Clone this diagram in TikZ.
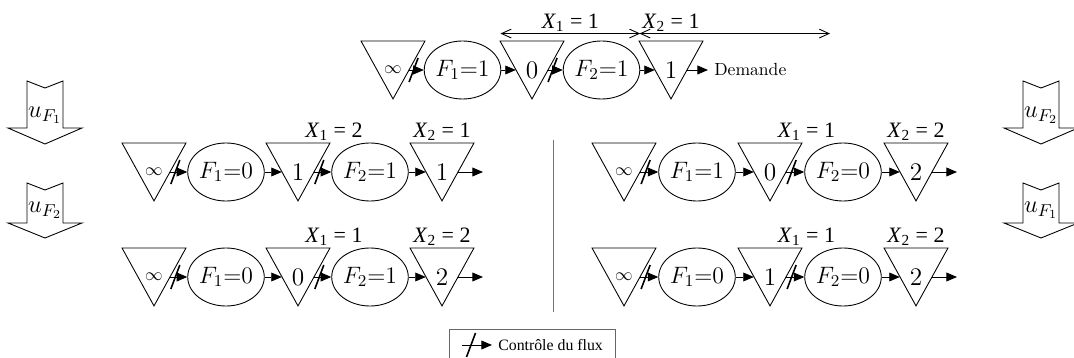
\documentclass[tikz,border=0pt]{standalone}
\usepackage{fix-cm}
\usepackage{fontspec}
\newfontfamily\tnr{Liberation Serif}
\usetikzlibrary{arrows.meta,positioning,calc,shapes.geometric,decorations.markings}

\begin{document}
\begin{tikzpicture}[
    line width=0.5pt,
    >={Triangle[length=6pt,width=5pt]},
    flow/.style={->},
    ctrl/.style={
        ->,
        postaction={decorate},
        decoration={markings,
            mark=at position 0.3 with {\draw[-, line width=0.9pt] (-0.09,-0.24) -- (0.09,0.24);}}
    },
    span/.style={{Straight Barb[length=5.5pt,width=5pt]}-{Straight Barb[length=5.5pt,width=5pt]}},
    stockbox/.style={
        minimum width=0.63cm,
        minimum height=1.14cm,
        inner sep=0pt,
        font=\Large,
        append after command={
            \pgfextra{\draw ([xshift=-0.315cm]\tikzlastnode.north west)
                -- ([xshift=0.315cm]\tikzlastnode.north east)
                -- (\tikzlastnode.south) -- cycle;}
        }
    },
    procbox/.style={
        ellipse,
        draw,
        minimum width=1.30cm,
        minimum height=1.16cm,
        inner sep=0pt,
        font=\fontsize{13.5}{15}\selectfont
    },
    xlab/.style={
        font=\tnr\fontsize{12.5}{14}\selectfont,
        inner sep=1pt
    },
    bigarrow/.style={
        draw,
        fill=white
    },
    ulab/.style={
        font=\fontsize{14}{16}\selectfont
    }
]

\useasboundingbox (0,0) rectangle (21.48,7.16);

% Top row, starting state
\node[stockbox] (srcT) at (7.86,5.76) {\normalsize$\infty$};
\node[procbox] (f1T) at (9.25,5.76) {$F_1{=}1$};
\node[stockbox] (s1T) at (10.64,5.76) {$0$};
\node[procbox] (f2T) at (12.03,5.76) {$F_2{=}1$};
\node[stockbox] (s2T) at (13.42,5.76) {$1$};
\node[anchor=west] (demande) at (14.16,5.76) {Demande};

\draw[ctrl] (srcT.east) -- (f1T.west);
\draw[flow] (f1T.east) -- (s1T.west);
\draw[ctrl] (s1T.east) -- (f2T.west);
\draw[flow] (f2T.east) -- (s2T.west);
\draw[flow] (s2T.east) -- (demande.west);

% Spans of X_1 and X_2
\coordinate (xoneL) at ($(s1T.north)+(-0.63,0.15)$);
\coordinate (xoneR) at (f2T.east |- xoneL);
\coordinate (xtwoL) at ($(s2T.north)+(-0.63,0.15)$);
\coordinate (xtwoR) at (16.60,0 |- xtwoL);
\draw[span] (xoneL) -- (xoneR);
\draw[span] (xtwoL) -- (xtwoR);
\node[xlab, above] at ($(xoneL)!0.5!(xoneR)$) {\textit{X}\textsubscript{1} = 1};
\node[xlab, above] at (s2T |- xtwoL) {\textit{X}\textsubscript{2} = 1};

% Left, after u_F1
\node[stockbox] (srcA) at (3.08,3.72) {\normalsize$\infty$};
\node[procbox] (f1A) at (4.52,3.72) {$F_1{=}0$};
\node[stockbox] (s1A) at (5.96,3.72) {$1$};
\node[procbox] (f2A) at (7.40,3.72) {$F_2{=}1$};
\node[stockbox] (s2A) at (8.84,3.72) {$1$};
\coordinate (endA) at (9.66,3.72);

\draw[ctrl] (srcA.east) -- (f1A.west);
\draw[flow] (f1A.east) -- (s1A.west);
\draw[ctrl] (s1A.east) -- (f2A.west);
\draw[flow] (f2A.east) -- (s2A.west);
\draw[flow] (s2A.east) -- (endA);

\node[xlab, above] at ($(s1A.north)!0.5!(f2A.north)$) {\textit{X}\textsubscript{1} = 2};
\node[xlab, above] at (s2A.north) {\textit{X}\textsubscript{2} = 1};

% Left, after u_F2
\node[stockbox] (srcB) at (3.08,1.62) {\normalsize$\infty$};
\node[procbox] (f1B) at (4.52,1.62) {$F_1{=}0$};
\node[stockbox] (s1B) at (5.96,1.62) {$0$};
\node[procbox] (f2B) at (7.40,1.62) {$F_2{=}1$};
\node[stockbox] (s2B) at (8.84,1.62) {$2$};
\coordinate (endB) at (9.66,1.62);

\draw[ctrl] (srcB.east) -- (f1B.west);
\draw[flow] (f1B.east) -- (s1B.west);
\draw[ctrl] (s1B.east) -- (f2B.west);
\draw[flow] (f2B.east) -- (s2B.west);
\draw[flow] (s2B.east) -- (endB);

\node[xlab, above] at ($(s1B.north)!0.5!(f2B.north)$) {\textit{X}\textsubscript{1} = 1};
\node[xlab, above] at (s2B.north) {\textit{X}\textsubscript{2} = 2};

% Right, after u_F2
\node[stockbox] (srcC) at (12.48,3.72) {\normalsize$\infty$};
\node[procbox] (f1C) at (13.94,3.72) {$F_1{=}1$};
\node[stockbox] (s1C) at (15.40,3.72) {$0$};
\node[procbox] (f2C) at (16.86,3.72) {$F_2{=}0$};
\node[stockbox] (s2C) at (18.32,3.72) {$2$};
\coordinate (endC) at (19.14,3.72);

\draw[ctrl] (srcC.east) -- (f1C.west);
\draw[flow] (f1C.east) -- (s1C.west);
\draw[ctrl] (s1C.east) -- (f2C.west);
\draw[flow] (f2C.east) -- (s2C.west);
\draw[flow] (s2C.east) -- (endC);

\node[xlab, above] at ($(s1C.north)!0.5!(f2C.north)$) {\textit{X}\textsubscript{1} = 1};
\node[xlab, above] at (s2C.north) {\textit{X}\textsubscript{2} = 2};

% Right, after u_F1
\node[stockbox] (srcD) at (12.48,1.62) {\normalsize$\infty$};
\node[procbox] (f1D) at (13.94,1.62) {$F_1{=}0$};
\node[stockbox] (s1D) at (15.40,1.62) {$1$};
\node[procbox] (f2D) at (16.86,1.62) {$F_2{=}0$};
\node[stockbox] (s2D) at (18.32,1.62) {$2$};
\coordinate (endD) at (19.14,1.62);

\draw[ctrl] (srcD.east) -- (f1D.west);
\draw[flow] (f1D.east) -- (s1D.west);
\draw[ctrl] (s1D.east) -- (f2D.west);
\draw[flow] (f2D.east) -- (s2D.west);
\draw[flow] (s2D.east) -- (endD);

\node[xlab, above] at ($(s1D.north)!0.5!(f2D.north)$) {\textit{X}\textsubscript{1} = 1};
\node[xlab, above] at (s2D.north) {\textit{X}\textsubscript{2} = 2};

% Separator
\coordinate (septop) at (11.06,4.36);
\coordinate (sepbot) at (11.06,0.92);
\draw[black!55] (septop) -- (sepbot);

% Commands on the left
\draw[bigarrow] (0.54,5.54) -- (0.90,5.40) -- (1.26,5.54) -- (1.26,4.60) -- (1.64,4.60)
    -- (0.90,4.28) -- (0.16,4.60) -- (0.54,4.60) -- cycle;
\node[ulab] (uleftone) at (0.90,4.86) {$u_{F_1}$};
\draw[bigarrow] (0.54,3.50) -- (0.90,3.36) -- (1.26,3.50) -- (1.26,2.70) -- (1.64,2.70)
    -- (0.90,2.40) -- (0.16,2.70) -- (0.54,2.70) -- cycle;
\node[ulab] (ulefttwo) at (0.90,2.96) {$u_{F_2}$};

% Commands on the right
\draw[bigarrow] (20.46,5.54) -- (20.82,5.40) -- (21.18,5.54) -- (21.18,4.60) -- (21.56,4.60)
    -- (20.82,4.28) -- (20.08,4.60) -- (20.46,4.60) -- cycle;
\node[ulab] (urightone) at (20.82,4.86) {$u_{F_2}$};
\draw[bigarrow] (20.46,3.50) -- (20.82,3.36) -- (21.18,3.50) -- (21.18,2.70) -- (21.56,2.70)
    -- (20.82,2.40) -- (20.08,2.70) -- (20.46,2.70) -- cycle;
\node[ulab] (urighttwo) at (20.82,2.96) {$u_{F_1}$};

% Legend
\node[draw=black!60, minimum width=3.32cm, minimum height=0.70cm] (legend) at (10.64,0.23) {};
\coordinate (legstart) at (9.24,0.26);
\node[anchor=west, font=\tnr\fontsize{9}{11}\selectfont] (legtext) at (9.84,0.26) {Contrôle du flux};
\draw[ctrl] (legstart) -- (legtext.west);

\end{tikzpicture}
\end{document}
